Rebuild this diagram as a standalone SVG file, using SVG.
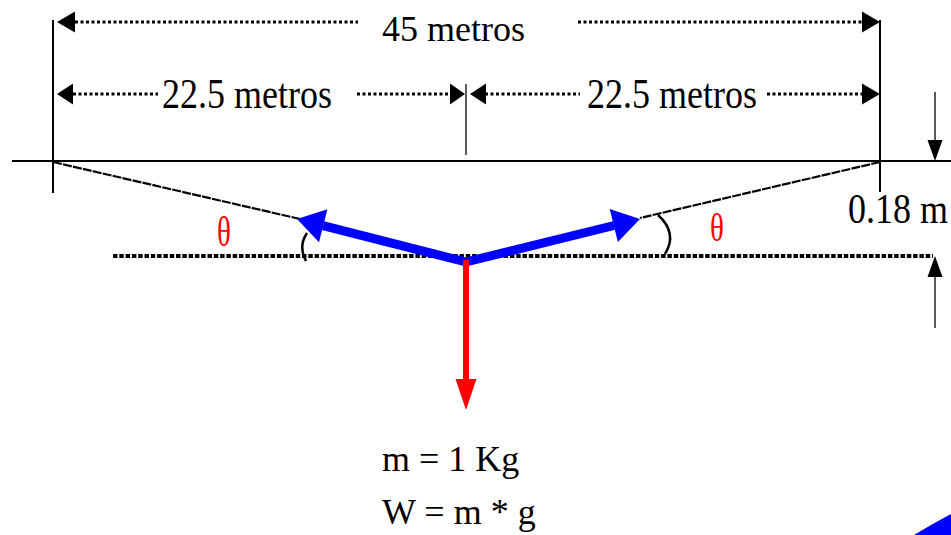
<svg xmlns="http://www.w3.org/2000/svg" width="951" height="535" viewBox="0 0 951 535">
<style>
  .txt { font-family: "Liberation Serif", "Times New Roman", serif; font-size: 36px; fill: #000; }
  .theta { font-family: "Liberation Serif", "Times New Roman", serif; font-size: 29px; fill: #ff0000; }
  .solid { stroke: #000; stroke-width: 2; fill: none; }
  .dim { stroke: #000; stroke-width: 3; stroke-dasharray: 3 2.5; fill: none; }
  .ref { stroke: #000; stroke-width: 4; stroke-dasharray: 4.5 1.8; fill: none; }
  .string { stroke: #000; stroke-width: 2.2; stroke-dasharray: 9 1.2; fill: none; }
  .arc { stroke: #000; stroke-width: 2.5; fill: none; }
  .ah { fill: #000; }
  .blue { stroke: #0000ff; stroke-width: 9; fill: none; }
  .bluehead { fill: #0000ff; }
</style>

<g id="frame">
  <line class="solid" x1="12" y1="161" x2="951" y2="161"/>
  <line class="solid" x1="53" y1="20" x2="53" y2="193"/>
  <line class="solid" x1="880" y1="20" x2="880" y2="192"/>
  <line x1="466" y1="84" x2="466" y2="155" stroke="#333" stroke-width="1.6"/>
</g>

<g id="dim-45">
  <path class="ah" d="M57,22 L75,11.5 L75,32.5 Z"/>
  <line class="dim" x1="75" y1="22" x2="358" y2="22"/>
  <text class="txt" x="382" y="41">45 metros</text>
  <line class="dim" x1="578" y1="22" x2="863" y2="22"/>
  <path class="ah" d="M880,22 L862,11.5 L862,32.5 Z"/>
</g>

<g id="dim-left">
  <path class="ah" d="M57,94 L73,83.5 L73,104.5 Z"/>
  <line class="dim" x1="73" y1="94" x2="158" y2="94"/>
  <text class="txt" transform="translate(162,108) scale(1,1.2)">22.5 metros</text>
  <line class="dim" x1="357" y1="94" x2="451" y2="94"/>
  <path class="ah" d="M465,94 L450,83.5 L450,104.5 Z"/>
</g>

<g id="dim-right">
  <path class="ah" d="M470,94 L486,83.5 L486,104.5 Z"/>
  <line class="dim" x1="485" y1="94" x2="580" y2="94"/>
  <text class="txt" transform="translate(587,108) scale(1,1.2)">22.5 metros</text>
  <line class="dim" x1="767" y1="94" x2="863" y2="94"/>
  <path class="ah" d="M880,94 L862,83.5 L862,104.5 Z"/>
</g>

<g id="sag">
  <line x1="935" y1="92" x2="935" y2="145" stroke="#333" stroke-width="1.6"/>
  <path class="ah" d="M935,161 L927.5,140 L942.5,140 Z"/>
  <line x1="935" y1="272" x2="935" y2="328" stroke="#333" stroke-width="1.6"/>
  <path class="ah" d="M935,256 L927.5,277 L942.5,277 Z"/>
  <text class="txt" transform="translate(848,223) scale(1,1.15)">0.18 m</text>
</g>

<g id="reference-line">
  <line class="ref" x1="113" y1="256" x2="933" y2="256"/>
</g>

<g id="strings">
  <line class="string" x1="53" y1="162" x2="300" y2="219"/>
  <line class="string" x1="880" y1="162" x2="640" y2="218"/>
</g>

<g id="angles">
  <path class="arc" d="M307,233 Q298,246 306,261"/>
  <path class="arc" d="M658,215 Q678,233 665,254"/>
  <text class="theta" transform="translate(217,246) scale(1,1.45)">θ</text>
  <text class="theta" transform="translate(710,241) scale(1,1.4)">θ</text>
</g>

<g id="connectors">
  <line class="blue" x1="466" y1="262" x2="323" y2="225.7"/>
  <path class="bluehead" d="M297,219 L327.4,209.2 L319,242.2 Z"/>
  <line class="blue" x1="466" y1="262" x2="614" y2="225.5"/>
  <path class="bluehead" d="M640,219 L609.7,209 L617.9,242 Z"/>
  <line x1="466" y1="260" x2="466" y2="384" stroke="#ff0000" stroke-width="6"/>
  <path d="M466,410 L455.5,379 L476.5,379 Z" fill="#ff0000"/>
</g>

<g id="mass-label">
  <text class="txt" x="382" y="471">m = 1 Kg</text>
  <text class="txt" x="382" y="524">W = m * g</text>
</g>

<g id="corner-fragment">
  <path d="M914,535 Q932,524 951,514 L951,535 Z" fill="#0000ff"/>
</g>
</svg>
